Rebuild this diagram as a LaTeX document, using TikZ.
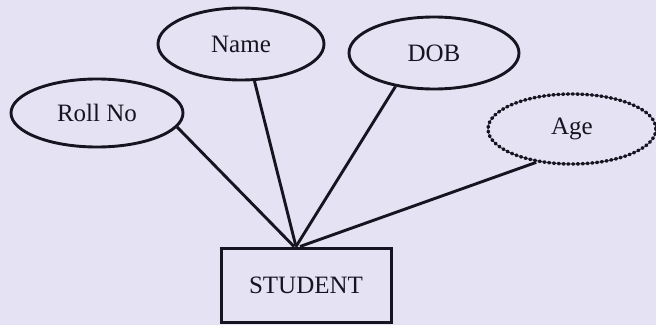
\documentclass[tikz,border=0pt]{standalone}
\usepackage{fontspec}
\setmainfont{Liberation Serif}
\usetikzlibrary{shapes.geometric}

\definecolor{paper}{RGB}{229,227,243}
\definecolor{ink}{RGB}{22,20,32}

\tikzset{
  attr/.style={ellipse, draw=ink, line width=2.9pt, inner sep=0pt,
               text=ink, font=\fontsize{25}{29}\selectfont},
  derived/.style={attr, dash pattern=on 1.4pt off 3.4pt, line cap=round, line width=3.4pt},
  entity/.style={rectangle, draw=ink, line width=3pt, inner sep=0pt,
                 minimum width=170pt, minimum height=74pt,
                 text=ink, font=\fontsize{25}{29}\selectfont},
  link/.style={draw=ink, line width=2.9pt}
}

\begin{document}
\begin{tikzpicture}[x=1pt, y=1pt]
  % page background
  \fill[paper] (0,0) rectangle (656,325);
  \useasboundingbox (0,0) rectangle (656,325);

  % entity
  \node[entity] (student) at (306,40) {STUDENT};

  % attributes
  \node[attr, minimum width=172pt, minimum height=68pt] (roll) at (97,212) {Roll No};
  \node[attr, minimum width=166pt, minimum height=72pt] (name) at (241,281) {Name};
  \node[attr, minimum width=170pt, minimum height=72pt] (dob)  at (434,272) {DOB};
  \node[derived, minimum width=168pt, minimum height=70pt] (age) at (572,196) {Age};

  % meeting point on top of the entity box
  \coordinate (apex) at ([xshift=-10pt]student.north);

  % attribute links
  \draw[link] (roll.-10)  -- ([xshift=-2pt]apex);
  \draw[link] (name.-70)  -- (apex);
  \draw[link] (dob.-139)  -- (apex);
  \draw[link] (age.-137)  -- ([xshift=4pt]apex);
\end{tikzpicture}
\end{document}
